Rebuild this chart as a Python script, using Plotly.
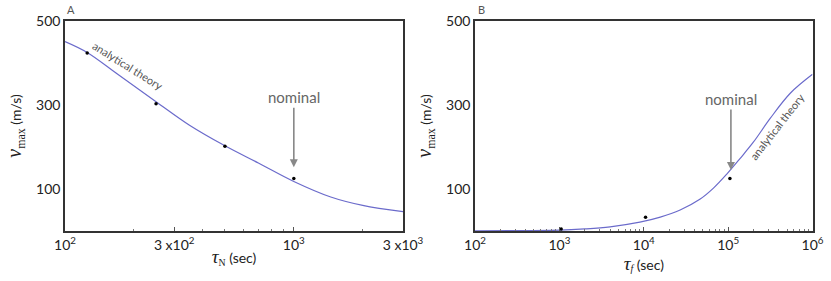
import numpy as np
import plotly.graph_objects as go

# ---- data ----
tauN_curve = [100, 125, 170, 250, 350, 500, 700, 1000, 1450, 2000, 3000]
vA_curve = [451, 425, 373, 308, 252, 203, 162, 118, 81, 61, 46]
tauN_pts = [125, 250, 500, 1000]
vA_pts = [424, 303, 202, 125]

tauf_curve = [100, 1000, 2000, 4000, 9000, 15700, 27000, 46700, 67000, 97000, 139000, 200000, 315000, 545000, 1000000]
vB_curve = [0.5, 2, 5, 10, 21, 33, 50, 76, 102, 136, 173, 212, 268, 328, 373]
tauf_pts = [1050, 10500, 105000]
vB_pts = [5, 33, 125]

A_xticks = [100, 300, 1000, 3000]
A_xtext = ["10<sup>2</sup>", "3 x10<sup>2</sup>", "10<sup>3</sup>", "3 x10<sup>3</sup>"]
B_xticks = [1e2, 1e3, 1e4, 1e5, 1e6]
B_xtext = ["10<sup>2</sup>", "10<sup>3</sup>", "10<sup>4</sup>", "10<sup>5</sup>", "10<sup>6</sup>"]
y_ticks = [100, 300, 500]

W, H = 831, 281
curve_col = "#6b6bcb"
sans = "Lato, Open Sans, sans-serif"
serif = "Liberation Serif, DejaVu Serif, serif"

fig = go.Figure()
fig.add_trace(go.Scatter(x=tauN_curve, y=vA_curve, mode="lines", line=dict(color=curve_col, width=1.2, shape="spline"),
                         xaxis="x", yaxis="y", showlegend=False))
fig.add_trace(go.Scatter(x=tauN_pts, y=vA_pts, mode="markers", marker=dict(color="black", size=3.5),
                         xaxis="x", yaxis="y", showlegend=False))
fig.add_trace(go.Scatter(x=tauf_curve, y=vB_curve, mode="lines", line=dict(color=curve_col, width=1.2, shape="spline"),
                         xaxis="x2", yaxis="y2", showlegend=False))
fig.add_trace(go.Scatter(x=tauf_pts, y=vB_pts, mode="markers", marker=dict(color="black", size=3.5),
                         xaxis="x2", yaxis="y2", showlegend=False))

axcommon = dict(showline=True, linecolor="#333", linewidth=1.5, mirror=True, showgrid=False, zeroline=False,
                tickfont=dict(family=sans, size=14, color="#222"), automargin=False)

def xaxis(domain, rng, tv, tt, title, anchor):
    return dict(axcommon, type="log", domain=domain, range=rng, tickvals=tv, ticktext=tt,
                ticks="inside", ticklen=4, tickcolor="#555", ticklabeloverflow="allow",
                minor=dict(ticks="inside", ticklen=2, tickcolor="#777", dtick="D1"),
                anchor=anchor, title=dict(text=title, standoff=2, font=dict(family=sans, size=14, color="#222")))

ytitle = ("<span style='font-family:%s;font-size:20px'><i>v</i></span><span style='font-family:%s;font-size:17px'>"
          "<sub>max</sub></span> (m/s)") % (serif, serif)

def yaxis(domain, anchor):
    return dict(axcommon, domain=domain, range=[0, 500], tickvals=y_ticks, ticks="", anchor=anchor,
                title=dict(text=ytitle, standoff=11, font=dict(family=sans, size=14, color="#222")))

def px(v):
    return v / W

fig.update_layout(
    width=W, height=H, margin=dict(l=0, r=0, t=21, b=H - 231),
    paper_bgcolor="white", plot_bgcolor="white",
    xaxis=xaxis([px(65), px(403)], [2, np.log10(3000)], A_xticks, A_xtext,
                "<span style='font-family:%s;font-size:19px'><i>τ</i></span><span style='font-family:%s'><sub>N</sub></span> (sec)" % (serif, serif), "y"),
    yaxis=yaxis([0, 1], "x"),
    xaxis2=xaxis([px(475), px(812.5)], [2, 6], B_xticks, B_xtext,
                 "<span style='font-family:%s;font-size:19px'><i>τ</i></span><span style='font-family:%s'><sub><i>f</i></sub></span> (sec)" % (serif, serif), "y2"),
    yaxis2=yaxis([0, 1], "x2"),
)

ann = [
    dict(text="A", x=px(66), y=1, xref="paper", yref="paper", xanchor="left", yanchor="bottom", yshift=4,
         showarrow=False, borderpad=0, font=dict(family=sans, size=11, color="#555")),
    dict(text="B", x=px(477), y=1, xref="paper", yref="paper", xanchor="left", yanchor="bottom", yshift=4,
         showarrow=False, borderpad=0, font=dict(family=sans, size=11, color="#555")),
    dict(text="analytical theory", x=np.log10(188), y=395, xref="x", yref="y", textangle=32, showarrow=False,
         font=dict(family=sans, size=11, color="#555")),
    dict(text="analytical theory", x=np.log10(3.8e5), y=248, xref="x2", yref="y2", textangle=-52, showarrow=False,
         font=dict(family=sans, size=11, color="#555")),
    dict(text="nominal", x=3, y=152, xref="x", yref="y", showarrow=True, ax=0, ay=-70,
         arrowhead=2, arrowsize=1, arrowwidth=1.6, arrowcolor="#888", standoff=0,
         font=dict(family=sans, size=15, color="#666")),
    dict(text="nominal", x=5.033, y=145, xref="x2", yref="y2", showarrow=True, ax=0, ay=-71,
         arrowhead=2, arrowsize=1, arrowwidth=1.6, arrowcolor="#888", standoff=0,
         font=dict(family=sans, size=15, color="#666")),
]
fig.update_layout(annotations=ann)
fig.write_html("out.html", config={"displayModeBar": False},
               post_script="document.body.style.margin='0';document.body.style.overflow='hidden';")
